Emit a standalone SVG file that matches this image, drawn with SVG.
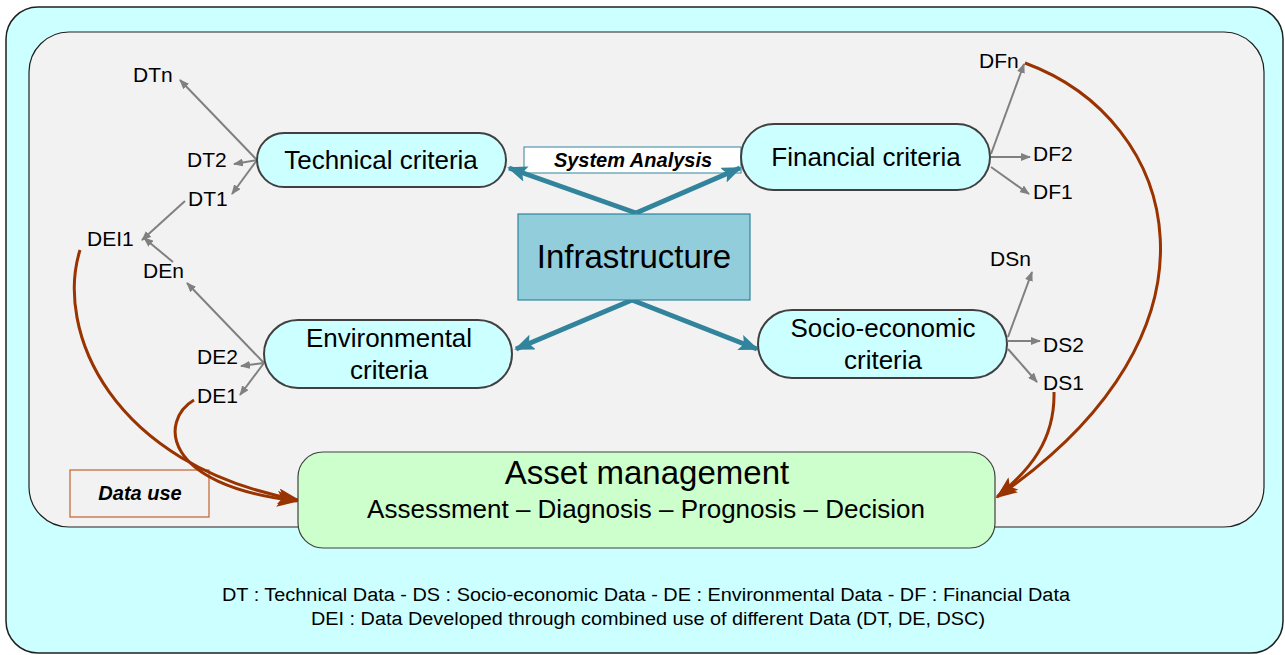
<svg xmlns="http://www.w3.org/2000/svg" width="1285" height="655" viewBox="0 0 1285 655">
<defs>
<style>
text{font-family:"Liberation Sans",Arial,sans-serif;fill:#000}
.crit{fill:#CCFFFF;stroke:#404040;stroke-width:2}
.ct{font-size:26px;text-anchor:middle}
.lbl{font-size:21px}
.g{stroke:#808080;stroke-width:2;fill:none;marker-end:url(#ag)}
.t{stroke:#31849B;stroke-width:5;fill:none;marker-end:url(#at)}
.b{stroke:#993300;stroke-width:3;fill:none;marker-end:url(#ab)}
.bi{font-size:20px;font-weight:bold;font-style:italic;text-anchor:middle}
.foot{font-size:18px;text-anchor:middle}
</style>
<marker id="ag" markerWidth="10" markerHeight="8" refX="9" refY="4" orient="auto" markerUnits="userSpaceOnUse"><path d="M0,0 L10,4 L0,8 Z" fill="#808080"/></marker>
<marker id="at" markerWidth="20" markerHeight="16" refX="18" refY="8" orient="auto" markerUnits="userSpaceOnUse"><path d="M0,0 L20,8 L0,16 L4,8 Z" fill="#31849B"/></marker>
<marker id="ab" markerWidth="22" markerHeight="16" refX="20" refY="8" orient="auto" markerUnits="userSpaceOnUse"><path d="M0,0 L22,8 L0,16 L5,8 Z" fill="#993300"/></marker>
</defs>
<rect x="6" y="7" width="1277" height="646" rx="32" fill="#CCFFFF" stroke="#202020" stroke-width="1.5"/>
<rect x="29" y="32" width="1235" height="495" rx="40" fill="#F2F2F2" stroke="#202020" stroke-width="1.2"/>

<g id="system-analysis">
<rect x="524" y="147" width="217" height="26" fill="#FFFFFF" stroke="#31849B" stroke-width="1"/>
<text class="bi" x="633" y="167">System Analysis</text>
</g>
<g id="data-use">
<rect x="70" y="470" width="139" height="47" fill="none" stroke="#C0622F" stroke-width="1.2"/>
<text class="bi" x="140" y="500">Data use</text>
</g>

<g id="connectors">
<path class="t" d="M636,213 L509,168"/>
<path class="t" d="M636,213 L740,168"/>
<path class="t" d="M632,300 L516,349"/>
<path class="t" d="M632,300 L757,349"/>
<path class="g" d="M257,160 L180,80"/>
<path class="g" d="M257,160 L234,164"/>
<path class="g" d="M257,160 L232,194"/>
<path class="g" d="M185,201 L142,240"/>
<path class="g" d="M173,262 L144,238"/>
<path class="g" d="M264,363 L187,283"/>
<path class="g" d="M264,363 L241,366"/>
<path class="g" d="M264,363 L240,395"/>
<path class="g" d="M991,154 L1024,64"/>
<path class="g" d="M991,157 L1030,157"/>
<path class="g" d="M991,167 L1029,194"/>
<path class="g" d="M1008,337 L1032,272"/>
<path class="g" d="M1008,341 L1040,341"/>
<path class="g" d="M1008,349 L1037,382"/>
<path class="b" d="M80,250 C55,330 110,465 298,500"/>
<path class="b" d="M194,400 C160,420 160,485 297,501"/>
<path class="b" d="M1025,63 C1180,120 1240,330 997,497"/>
<path class="b" d="M1054,392 C1055,440 1030,470 998,496"/>
</g>

<g id="technical">
<rect class="crit" x="257" y="133" width="249" height="54" rx="27"/>
<text class="ct" x="381" y="169">Technical criteria</text>
</g>
<g id="financial">
<rect class="crit" x="741" y="124" width="249" height="66" rx="33"/>
<text class="ct" x="866" y="166">Financial criteria</text>
</g>
<g id="environmental">
<rect class="crit" x="264" y="320" width="248" height="68" rx="34"/>
<text class="ct" x="389" y="347">Environmental</text>
<text class="ct" x="389" y="379">criteria</text>
</g>
<g id="socio-economic">
<rect class="crit" x="758" y="310" width="249" height="68" rx="34"/>
<text class="ct" x="883" y="337">Socio-economic</text>
<text class="ct" x="883" y="369">criteria</text>
</g>
<g id="infrastructure">
<rect x="518" y="214" width="232" height="86" fill="#92CDDC" stroke="#31849B" stroke-width="1.2"/>
<text x="634" y="268" font-size="33" text-anchor="middle">Infrastructure</text>
</g>
<g id="asset-management">
<rect x="298" y="452" width="697" height="96" rx="25" fill="#CCFFCC" stroke="#404040" stroke-width="1.2"/>
<text x="647" y="484" font-size="33" text-anchor="middle">Asset management</text>
<text x="646" y="518" font-size="26" text-anchor="middle">Assessment – Diagnosis – Prognosis – Decision</text>
</g>

<g id="labels">
<text class="lbl" x="133" y="82">DTn</text>
<text class="lbl" x="187" y="167">DT2</text>
<text class="lbl" x="188" y="206">DT1</text>
<text class="lbl" x="87" y="246">DEI1</text>
<text class="lbl" x="143" y="278">DEn</text>
<text class="lbl" x="197" y="364">DE2</text>
<text class="lbl" x="197" y="403">DE1</text>
<text class="lbl" x="979" y="68">DFn</text>
<text class="lbl" x="1033" y="161">DF2</text>
<text class="lbl" x="1033" y="199">DF1</text>
<text class="lbl" x="990" y="266">DSn</text>
<text class="lbl" x="1043" y="352">DS2</text>
<text class="lbl" x="1043" y="390">DS1</text>
</g>

<g id="legend">
<text class="foot" x="646" y="601" textLength="848" lengthAdjust="spacingAndGlyphs">DT : Technical Data - DS : Socio-economic Data - DE : Environmental Data - DF : Financial Data</text>
<text class="foot" x="648" y="625" textLength="674" lengthAdjust="spacingAndGlyphs">DEI : Data Developed through combined use of different Data (DT, DE, DSC)</text>
</g>
</svg>
